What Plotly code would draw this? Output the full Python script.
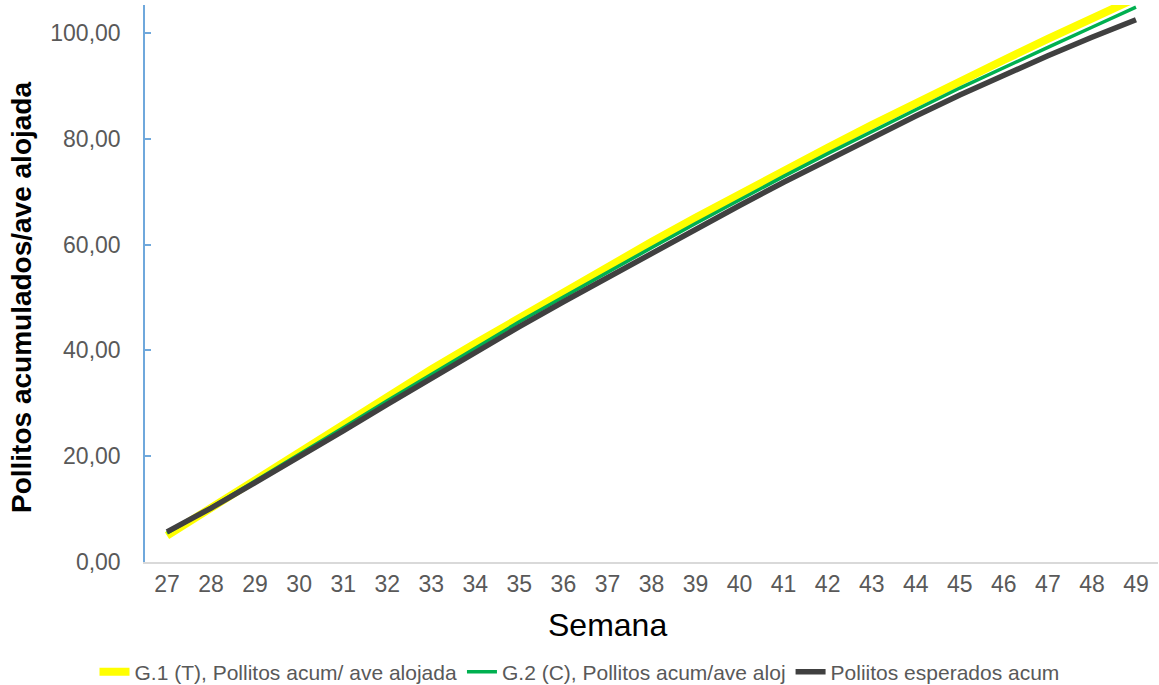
import plotly.graph_objects as go

# Semanas de producción
semanas = [str(s) for s in range(27, 50)]

# G.1 (T): pollitos acumulados por ave alojada
g1_tratamiento = [5.0, 10.2, 15.6, 21.0, 26.2, 31.4, 36.4, 41.3, 46.2, 51.0, 55.8, 60.5,
                  65.1, 69.6, 74.0, 78.3, 82.6, 86.8, 90.9, 94.9, 98.9, 102.8, 106.6]

# G.2 (C): pollitos acumulados por ave alojada
g2_control = [5.5, 10.3, 15.3, 20.3, 25.4, 30.5, 35.5, 40.5, 45.4, 50.1, 54.8, 59.4,
              64.0, 68.5, 72.9, 77.2, 81.4, 85.5, 89.6, 93.5, 97.3, 101.1, 104.9]

# Pollitos esperados acumulados (estándar)
esperados = [5.7, 10.2, 15.0, 19.8, 24.8, 29.8, 34.8, 39.7, 44.5, 49.2, 53.8, 58.3,
             62.9, 67.4, 71.8, 76.0, 80.2, 84.3, 88.3, 92.1, 95.7, 99.2, 102.5]

y_ticks = [0, 20, 40, 60, 80, 100]
y_tick_text = ["0,00", "20,00", "40,00", "60,00", "80,00", "100,00"]

fig = go.Figure()
fig.add_trace(go.Scatter(x=semanas, y=g1_tratamiento, mode="lines",
                         name="G.1 (T), Pollitos acum/ ave alojada",
                         line=dict(color="#FFFF00", width=8)))
fig.add_trace(go.Scatter(x=semanas, y=g2_control, mode="lines",
                         name="G.2 (C), Pollitos acum/ave aloj",
                         line=dict(color="#00B050", width=3.5)))
fig.add_trace(go.Scatter(x=semanas, y=esperados, mode="lines",
                         name="Poliitos esperados acum",
                         line=dict(color="#404040", width=5.5)))

fig.update_layout(
    width=1159, height=685,
    margin=dict(l=145, r=1, t=5, b=123),
    paper_bgcolor="white", plot_bgcolor="white",
    font=dict(family="Liberation Sans, Arial, sans-serif", color="#595959"),
    showlegend=True,
    legend=dict(orientation="h", xref="container", yref="container",
                x=0.5, xanchor="center", y=0.019, yanchor="middle",
                font=dict(family="Liberation Sans, Arial, sans-serif",
                          size=21, color="#595959"),
                itemwidth=30, tracegroupgap=0),
    xaxis=dict(type="category", range=[-0.5, len(semanas) - 0.5],
               showgrid=False, showline=True,
               linecolor="#D9D9D9", linewidth=2, ticks="",
               tickfont=dict(size=23, color="#595959"), zeroline=False),
    yaxis=dict(range=[0, 105.3], showgrid=False, showline=True,
               linecolor="#6FA8DC", linewidth=1.5, ticks="inside", ticklen=6,
               tickcolor="#6FA8DC", tickwidth=1.5,
               tickvals=y_ticks, ticktext=y_tick_text, ticklabelstandoff=18,
               tickfont=dict(size=23, color="#595959"), zeroline=False),
)

fig.add_annotation(text="<b>Pollitos acumulados/ave alojada</b>", textangle=-90,
                   xref="paper", yref="paper", x=-0.1214, y=0.474,
                   xanchor="center", yanchor="middle", showarrow=False,
                   font=dict(family="Liberation Sans, Arial, sans-serif", size=28, color="black"))
fig.add_annotation(text="Semana", xref="paper", yref="paper", x=0.457, y=-0.113,
                   xanchor="center", yanchor="middle", showarrow=False,
                   font=dict(family="Liberation Sans, Arial, sans-serif", size=32, color="black"))

fig.write_html("out.html")
